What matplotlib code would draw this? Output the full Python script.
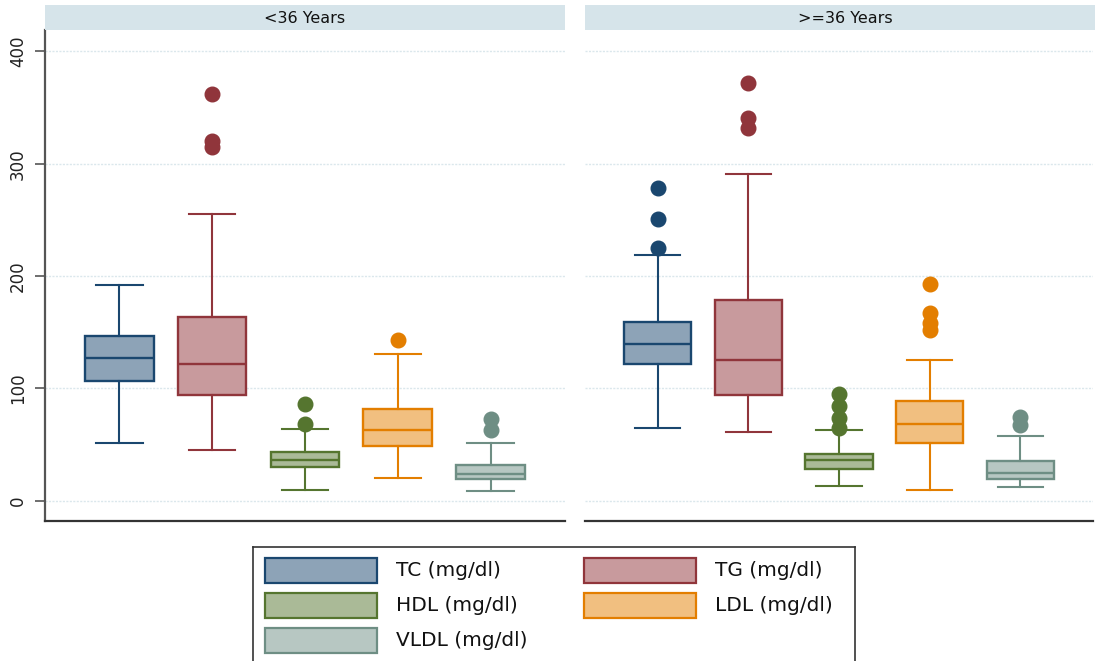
import matplotlib
matplotlib.use('Agg')
import matplotlib.pyplot as plt
from matplotlib.patches import Rectangle
from matplotlib.colors import to_rgb
import numpy as np

# age groups and lipid measures
groups = ['<36 Years', '>=36 Years']
lipids = ['TC (mg/dl)', 'TG (mg/dl)', 'HDL (mg/dl)', 'LDL (mg/dl)', 'VLDL (mg/dl)']

# box summaries, under 36
young_q1 = [107, 94, 30, 49, 19]
young_med = [127, 122, 36.5, 63, 24]
young_q3 = [147, 164, 43, 81.5, 32]
young_lo = [51, 45, 10, 20, 9]
young_hi = [192, 255, 64, 131, 51]
young_out = [[], [362, 320, 315], [86, 68], [143], [73, 63]]

# box summaries, 36 and over
old_q1 = [122, 94, 28.5, 51, 19.5]
old_med = [139.5, 125, 36.5, 68.5, 25]
old_q3 = [159.5, 179, 41.5, 89, 35]
old_lo = [65, 61.5, 13.5, 9.5, 12]
old_hi = [219, 291, 63, 125, 58]
old_out = [[278, 251, 225], [372, 341, 332], [95, 84, 74, 65], [193, 167, 158, 152], [75, 67]]

yticks = [0, 100, 200, 300, 400]

# stata s2color-ish palette
edge_colors = ['#1a476f', '#90353b', '#55752f', '#e37e00', '#6e8e84']


def lighten(c, f=0.5):
    r = np.array(to_rgb(c))
    return tuple(r * f + (1 - f))


fill_colors = [lighten(c) for c in edge_colors]

W, H = 1095, 661
fig = plt.figure(figsize=(W / 100, H / 100), dpi=100)
plt.rcParams['font.family'] = 'DejaVu Sans'

panels = [
    (groups[0], young_q1, young_med, young_q3, young_lo, young_hi, young_out, 45, 520),
    (groups[1], old_q1, old_med, old_q3, old_lo, old_hi, old_out, 585, 508),
]

for k, (title, q1, med, q3, lo, hi, out, left_px, width_px) in enumerate(panels):
    ax = fig.add_axes([left_px / W, (H - 521) / H, width_px / W, (521 - 30) / H])
    stats = []
    for i in range(len(lipids)):
        stats.append(dict(q1=q1[i], med=med[i], q3=q3[i], whislo=lo[i], whishi=hi[i],
                          fliers=out[i], label=lipids[i]))
    pos = np.arange(len(lipids))
    res = ax.bxp(stats, positions=pos, widths=0.74, capwidths=0.5, patch_artist=True,
                 showfliers=True)
    for i, c in enumerate(edge_colors):
        res['boxes'][i].set(facecolor=fill_colors[i], edgecolor=c, linewidth=1.7)
        res['medians'][i].set(color=c, linewidth=1.7)
        for j in (2 * i, 2 * i + 1):
            res['whiskers'][j].set(color=c, linewidth=1.5)
            res['caps'][j].set(color=c, linewidth=1.5)
        res['fliers'][i].set(marker='o', markerfacecolor=c, markeredgecolor=c,
                             markersize=10.5, linestyle='none')

    ax.set_xlim(-0.8, 4.8)
    ax.set_ylim(-18, 419)
    ax.set_yticks(yticks)
    ax.yaxis.grid(True, color='#dbe7ec', linewidth=1, linestyle=(0, (1.5, 1)))
    ax.set_axisbelow(True)
    ax.set_xticks([])
    for s in ('top', 'right'):
        ax.spines[s].set_visible(False)
    ax.spines['bottom'].set(color='#333333', linewidth=1.6)
    if k == 0:
        ax.spines['left'].set(color='#555555', linewidth=1.6)
        ax.tick_params(axis='y', length=7, width=1.2, color='#555555', pad=6,
                       labelsize=12, labelrotation=90, labelcolor='#222222')
        for lab in ax.get_yticklabels():
            lab.set_va('center')
    else:
        ax.spines['left'].set_visible(False)
        ax.tick_params(axis='y', length=0, labelleft=False)

    # strip header
    sx = fig.add_axes([left_px / W, (H - 30) / H, 520 / W, 25 / H])
    sx.set_facecolor('#d6e4ea')
    sx.set_xticks([])
    sx.set_yticks([])
    for s in sx.spines.values():
        s.set_visible(False)
    sx.text(0.5, 0.45, title, ha='center', va='center', fontsize=11.5, color='#111111',
            transform=sx.transAxes)

# legend box, cut off at the bottom edge
lx = fig.add_axes([253 / W, 0, (855 - 253) / W, (H - 547) / H])
lx.set_xlim(253, 855)
lx.set_ylim(661, 547)
lx.set_xticks([])
lx.set_yticks([])
lx.spines['bottom'].set_visible(False)
for s in ('left', 'top', 'right'):
    lx.spines[s].set(color='#333333', linewidth=1.2)

col_x = [265, 584]
for i, name in enumerate(lipids):
    row, col = divmod(i, 2)
    yc = 570.5 + 35 * row
    lx.add_patch(Rectangle((col_x[col], yc - 12.5), 112, 25, facecolor=fill_colors[i],
                           edgecolor=edge_colors[i], linewidth=1.6))
    lx.text(col_x[col] + 131, yc, name, ha='left', va='center', fontsize=14.5,
            color='#111111')

fig.savefig('out.png', dpi=100)
